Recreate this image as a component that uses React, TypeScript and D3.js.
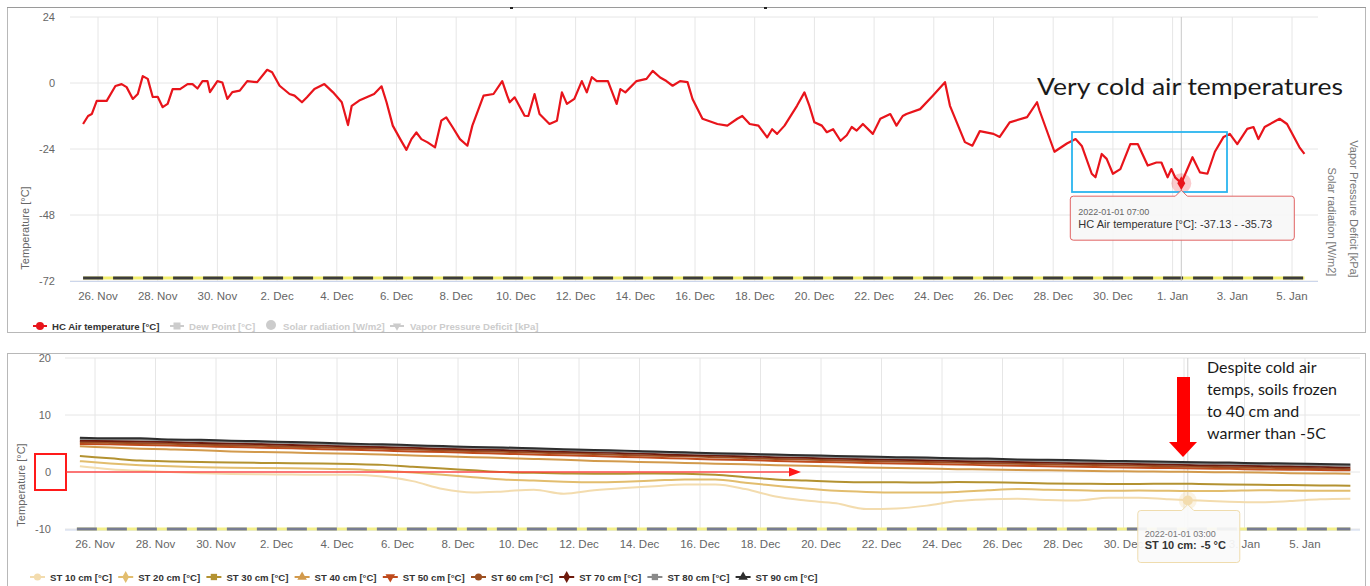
import * as d3 from "d3"

// HC Air temperature [°C], time in hours from 2021-11-26 00:00
const airHours = [
  -12, -8, -5, -1, 7, 14, 19, 23, 28, 32, 36, 40, 44, 48, 52, 56, 60, 66, 72, 76,
  80, 84, 88, 90, 96, 100, 104, 108, 114, 120, 128, 136, 140, 146, 154, 158, 164, 168, 174, 182,
  189, 196, 201, 204, 210, 216, 222, 228, 232, 237, 243, 248, 252, 256, 260, 265, 271, 276, 280, 285,
  291, 297, 301, 310, 318, 325, 329, 331, 335, 343, 346, 351, 355, 363, 369, 373, 377, 383, 389, 393,
  397, 401, 410, 417, 420, 424, 433, 441, 446, 452, 457, 462, 468, 474, 478, 486, 498, 506, 514, 518,
  524, 531, 538, 542, 546, 552, 562, 568, 572, 576, 582, 586, 591, 597, 602, 606, 610, 615, 623, 629,
  637, 642, 647, 650, 661, 671, 681, 685, 697, 703, 709, 720, 725, 733, 747, 755, 757, 769, 779, 786,
  791, 799, 802, 807, 811, 816, 822, 830, 836, 844, 851, 855, 860, 863, 866, 871, 876, 880, 886, 892,
  898, 905, 910, 916, 924, 929, 933, 938, 950, 956, 966, 970,
]
const airTemp = [
  -14.9, -12, -11.3, -6.5, -6.5, -1.1, -0.4, -1.5, -5.8, -4, 2.5, 1.5, -5.1, -5, -8.8, -7.6, -2.2, -2.2, -0.4, -0.4,
  -2, 0.7, 0.7, -3.3, 0.7, 0.2, -5.8, -3.3, -2.8, 0.7, 0.3, 4.8, 3.9, -1, -4, -4.6, -7, -5.2, -2.2, -0.4,
  -3.4, -7, -15.3, -8.3, -6.4, -5.2, -4, -1.2, -7, -15.5, -20.4, -24.3, -20.4, -18, -20.4, -21.6, -23.4, -13.7, -12.5, -16,
  -20.4, -22.8, -15.5, -4.6, -4, 0.7, -4.6, -7, -5.2, -11.9, -12, -4, -11.3, -14.9, -13.7, -3.4, -7.6, -5.8, 0.7, -3.4,
  2.1, 0.7, 0.7, -7.6, -2.2, -3.4, 0.7, 1.5, 4.4, 2, 0.7, -1, 0.7, 0.3, -5.8, -13, -14.9, -15.5, -13, -12,
  -14.9, -15.5, -19.8, -16.8, -18.5, -15.5, -8.3, -3.4, -8.3, -14.3, -15.5, -17.9, -16.8, -21, -19, -16, -17.3, -14.9, -18.5, -13,
  -11.3, -15.5, -12, -11.3, -9.5, -4.7, 0.3, -8.3, -21.5, -22.8, -17.5, -18.5, -19.6, -14.3, -12.4, -7, -10, -25, -22, -20.4,
  -22.9, -33, -34.3, -25.8, -27.6, -33, -31.3, -22.2, -22.2, -30, -28.9, -28.9, -34.3, -31.3, -34.3, -36.4, -31.2, -27, -32.5, -33,
  -25, -19.6, -18.5, -22.2, -16.7, -16, -20.4, -16, -13, -14.9, -23.4, -25.8,
]
// hidden-axis series sitting at zero (solar radiation / VPD), first and last sample
const solarRad = [0, 0]
const vpdTop = [0, 0]

// soil temperatures, one value per day at 12:00 from 2021-11-25
const st10 = [1.0, 0.5, 0.2, 0.0, -0.2, -0.35, -0.4, -0.45, -0.5, -0.5, -0.8, -1.6, -3.0, -3.6, -3.4, -3.1, -3.8, -3.2, -2.8, -2.5, -2.2, -2.2, -3.0, -4.3, -5.0, -5.5, -6.5, -6.4, -5.9, -5.1, -4.8, -4.7, -4.9, -5.0, -4.5, -4.5, -4.8, -5.0, -5.2, -5.3, -5.1, -4.8, -4.7]
const st20 = [1.9, 1.5, 1.2, 1.0, 0.85, 0.75, 0.7, 0.65, 0.55, 0.5, 0.2, -0.1, -0.5, -0.9, -1.3, -1.5, -1.7, -1.8, -1.7, -1.5, -1.3, -1.3, -1.9, -2.4, -2.9, -3.3, -3.5, -3.6, -3.6, -3.5, -3.2, -3.0, -3.1, -3.2, -3.3, -3.25, -3.3, -3.35, -3.3, -3.2, -3.25, -3.3, -3.3]
const st30 = [2.8, 2.4, 2.0, 1.85, 1.75, 1.65, 1.6, 1.55, 1.5, 1.4, 1.25, 0.9, 0.6, 0.3, 0.0, -0.15, -0.25, -0.3, -0.3, -0.25, -0.3, -0.5, -0.9, -1.3, -1.5, -1.7, -1.8, -1.8, -1.85, -1.75, -1.8, -1.9, -2.0, -2.05, -2.1, -2.1, -2.05, -2.1, -2.2, -2.25, -2.3, -2.35, -2.4]
const st40 = [4.5, 4.3, 4.1, 3.95, 3.8, 3.6, 3.5, 3.4, 3.3, 3.2, 3.05, 2.9, 2.75, 2.6, 2.45, 2.3, 2.15, 1.95, 1.85, 1.7, 1.6, 1.45, 1.35, 1.2, 1.1, 0.95, 0.8, 0.7, 0.6, 0.5, 0.45, 0.35, 0.3, 0.2, 0.15, 0.1, 0.05, 0.0, -0.05, -0.1, -0.2, -0.25, -0.3]
const st50 = [4.9, 4.85, 4.75, 4.65, 4.5, 4.4, 4.25, 4.15, 4.0, 3.9, 3.75, 3.6, 3.5, 3.35, 3.2, 3.05, 2.95, 2.8, 2.65, 2.5, 2.35, 2.2, 2.1, 1.95, 1.8, 1.7, 1.6, 1.5, 1.4, 1.3, 1.2, 1.1, 1.0, 0.9, 0.85, 0.75, 0.7, 0.6, 0.55, 0.45, 0.4, 0.35, 0.3]
const st60 = [5.2, 5.15, 5.05, 4.95, 4.8, 4.7, 4.6, 4.45, 4.35, 4.2, 4.1, 3.95, 3.8, 3.7, 3.55, 3.4, 3.3, 3.15, 3.0, 2.85, 2.75, 2.6, 2.45, 2.3, 2.2, 2.05, 1.95, 1.85, 1.75, 1.65, 1.55, 1.45, 1.35, 1.25, 1.2, 1.1, 1.0, 0.9, 0.85, 0.75, 0.7, 0.6, 0.5]
const st70 = [5.5, 5.45, 5.35, 5.25, 5.1, 5.0, 4.9, 4.75, 4.65, 4.5, 4.4, 4.25, 4.1, 3.95, 3.85, 3.7, 3.55, 3.45, 3.3, 3.15, 3.0, 2.9, 2.75, 2.6, 2.5, 2.35, 2.25, 2.15, 2.05, 1.95, 1.85, 1.75, 1.65, 1.55, 1.5, 1.4, 1.3, 1.2, 1.15, 1.05, 1.0, 0.9, 0.8]
const st80 = [5.8, 5.75, 5.7, 5.55, 5.45, 5.35, 5.2, 5.1, 4.95, 4.8, 4.7, 4.55, 4.4, 4.25, 4.15, 4.0, 3.85, 3.7, 3.6, 3.45, 3.3, 3.15, 3.05, 2.9, 2.8, 2.65, 2.55, 2.45, 2.35, 2.25, 2.15, 2.05, 1.95, 1.85, 1.8, 1.7, 1.6, 1.5, 1.45, 1.35, 1.3, 1.2, 1.1]
const st90 = [6.0, 5.9, 5.9, 5.7, 5.65, 5.5, 5.4, 5.25, 5.15, 4.95, 4.85, 4.7, 4.55, 4.4, 4.3, 4.15, 4.0, 3.85, 3.75, 3.6, 3.45, 3.3, 3.2, 3.05, 2.95, 2.8, 2.7, 2.6, 2.55, 2.4, 2.35, 2.2, 2.15, 2.05, 1.95, 1.9, 1.8, 1.7, 1.65, 1.55, 1.5, 1.4, 1.3]
const soilValues = [st10, st20, st30, st40, st50, st60, st70, st80, st90]
const soilNames = ["ST 10 cm [°C]", "ST 20 cm [°C]", "ST 30 cm [°C]", "ST 40 cm [°C]", "ST 50 cm [°C]", "ST 60 cm [°C]", "ST 70 cm [°C]", "ST 80 cm [°C]", "ST 90 cm [°C]"]
const soilFloor = [-10, -10]

const topYTicks = [24, 0, -24, -48, -72]
const botYTicks = [20, 10, 0, -10]
const topLegendNames = ["HC Air temperature [°C]", "Dew Point [°C]", "Solar radiation [W/m2]", "Vapor Pressure Deficit [kPa]"]

// tooltips
const airTipHour = 871
const airTipLabel = "2022-01-01 07:00"
const airTipLow = -37.13
const airTipHigh = -35.73
const soilTipHour = 867
const soilTipLabel = "2022-01-01 03:00"
const soilTipValue = -5

// styles
const soilColors = ["#f3dcae", "#e2bd6e", "#b39231", "#d29a4c", "#bf4b1d", "#9c4f22", "#6e1a0c", "#8a8a8a", "#2e2e2e"]
const soilSymbols = ["circle", "diamond", "square", "triangle", "triangle-down", "circle", "diamond", "square", "triangle"]
const RED = "#e8141b"
const FONT = "'Liberation Sans', Arial, Helvetica, sans-serif"
const NOTE_FONT = "Lato, 'Open Sans', sans-serif"

function symbolPath(kind: string, size: number) {
  const t =
    kind === "circle" ? d3.symbolCircle : kind === "diamond" ? d3.symbolDiamond : kind === "square" ? d3.symbolSquare : d3.symbolTriangle
  return d3.symbol().type(t).size(size)() as string
}

function tipPath(x0: number, y0: number, x1: number, y1: number, px: number, r: number) {
  return `M${x0 + r},${y0} L${px - 6},${y0} L${px},${y0 - 6} L${px + 6},${y0} L${x1 - r},${y0} Q${x1},${y0} ${x1},${y0 + r} L${x1},${y1 - r} Q${x1},${y1} ${x1 - r},${y1} L${x0 + r},${y1} Q${x0},${y1} ${x0},${y1 - r} L${x0},${y0 + r} Q${x0},${y0} ${x0 + r},${y0} Z`
}

export default function App() {
  const base = new Date(2021, 10, 26)
  const last = new Date(2022, 0, 5)
  const hourDate = (h: number) => d3.timeHour.offset(base, h)
  const soilDate = (i: number) => d3.timeHour.offset(base, -12 + 24 * i)

  const xTop = d3.scaleTime().domain([base, last]).range([98, 1292])
  const yTop = d3.scaleLinear().domain([-72, 24]).range([281, 17])
  const ySolar = d3.scaleLinear().domain([0, 100]).range([278, 17])
  const xBot = d3.scaleTime().domain([base, last]).range([95, 1305])
  const yBot = d3.scaleLinear().domain([-10, 20]).range([529, 358])

  const dayTicks = d3.timeDay.range(base, new Date(2022, 0, 6), 2)
  const fmt = d3.timeFormat("%-d. %b")

  const airLine = d3
    .line<number>()
    .x((_, i) => xTop(hourDate(airHours[i])))
    .y((d) => yTop(d))
  const soilLine = d3
    .line<number>()
    .x((_, i) => xBot(soilDate(i)))
    .y((d) => yBot(d))
    .curve(d3.curveMonotoneX)

  const topFlatX = [xTop(hourDate(airHours[0])), xTop(hourDate(airHours[airHours.length - 1]))]
  const botFlatX = [xBot(soilDate(0)) - 3, xBot(soilDate(st10.length - 1))]

  // tooltip anchors
  const atx = xTop(hourDate(airTipHour))
  const aty = yTop((airTipLow + airTipHigh) / 2)
  const stx = xBot(hourDate(soilTipHour))
  const sty = yBot(soilTipValue)

  // bottom tick labels hidden by the soil tooltip
  const botLabelTicks = dayTicks.filter((d) => Math.abs(xBot(d) - stx) > 30)

  const axisText = { fontFamily: FONT, fontSize: 11.5, fill: "#666" }

  return (
    <svg width={1370} height={586} style={{ position: "absolute", left: 0, top: 0, display: "block", background: "#fff" }}>
      {/* ---------- top panel ---------- */}
      <rect x={7.5} y={7.5} width={1358} height={325} fill="#fff" stroke="#b8b8b8" />
      <line x1={7} x2={1366} y1={7.5} y2={7.5} stroke="#9a9a9a" />
      <rect x={510} y={7} width={3} height={2} fill="#222" />
      <rect x={764} y={7} width={3} height={2} fill="#222" />

      {topYTicks.map((t) => (
        <line key={"tg" + t} x1={70} x2={1318} y1={yTop(t)} y2={yTop(t)} stroke="#e6e6e6" />
      ))}
      {dayTicks.map((d) => (
        <line key={"tv" + +d} x1={xTop(d)} x2={xTop(d)} y1={17} y2={281} stroke="#e6e6e6" />
      ))}
      <line x1={70} x2={1318} y1={281.5} y2={281.5} stroke="#ccd6eb" />
      {topYTicks.map((t) => (
        <text key={"ty" + t} x={55} y={yTop(t)} dy="0.35em" textAnchor="end" {...axisText} fontSize={11}>
          {t}
        </text>
      ))}
      {dayTicks.map((d) => (
        <text key={"tx" + +d} x={xTop(d)} y={300} textAnchor="middle" {...axisText}>
          {fmt(d)}
        </text>
      ))}
      <text transform={`translate(29,228) rotate(-90)`} textAnchor="middle" fontFamily={FONT} fontSize={11} fill="#666">
        Temperature [°C]
      </text>
      <text transform={`translate(1350,209) rotate(90)`} textAnchor="middle" fontFamily={FONT} fontSize={11} fill="#777">
        Vapor Pressure Deficit [kPa]
      </text>
      <text transform={`translate(1328,222) rotate(90)`} textAnchor="middle" fontFamily={FONT} fontSize={11} fill="#777">
        Solar radiation [W/m2]
      </text>

      {/* flat series on hidden axes */}
      <line x1={topFlatX[0]} x2={topFlatX[1]} y1={ySolar(solarRad[0])} y2={ySolar(solarRad[1])} stroke="#f2ee6e" strokeWidth={3} />
      <line
        x1={topFlatX[0]}
        x2={topFlatX[1]}
        y1={ySolar(vpdTop[0])}
        y2={ySolar(vpdTop[1])}
        stroke="#3c3c3c"
        strokeWidth={3}
        strokeDasharray="20,10"
      />

      {/* crosshair */}
      <line x1={atx} x2={atx} y1={17} y2={281} stroke="#c8c8c8" />

      <path d={airLine(airTemp) as string} fill="none" stroke={RED} strokeWidth={2.2} strokeLinejoin="round" />

      {/* hover marker */}
      <circle cx={atx} cy={aty} r={10} fill={RED} opacity={0.22} />
      <path d={symbolPath("diamond", 55)} transform={`translate(${atx},${aty})`} fill={RED} />

      {/* annotation */}
      <rect x={1072} y={132} width={155} height={60} fill="none" stroke="#2bb5ef" strokeWidth={1.8} />
      <text x={1037} y={95} fontFamily={NOTE_FONT} fontSize={23.5} fill="#1a1a1a" textLength={306} lengthAdjust="spacingAndGlyphs">
        Very cold air temperatures
      </text>

      {/* tooltip */}
      <path d={tipPath(atx - 111, aty + 13, atx + 113, aty + 57, atx, 3)} fill="rgba(247,247,247,0.9)" stroke="#e06262" />
      <text x={atx - 103} y={aty + 32} fontFamily={FONT} fontSize={9} fill="#666">
        {airTipLabel}
      </text>
      <text x={atx - 103} y={aty + 45} fontFamily={FONT} fontSize={11} fill="#333">
        {`HC Air temperature [°C]: ${airTipLow.toFixed(2)} - ${airTipHigh.toFixed(2)}`}
      </text>

      {/* top legend */}
      <g fontFamily={FONT} fontSize={9.6} fontWeight="bold">
        <line x1={33} x2={47} y1={326} y2={326} stroke={RED} strokeWidth={2} />
        <circle cx={40} cy={326} r={4} fill={RED} />
        <text x={52} y={329.5} fill="#333">
          {topLegendNames[0]}
        </text>
        <line x1={170} x2={184} y1={326} y2={326} stroke="#ccc" strokeWidth={2} />
        <rect x={173.5} y={322.5} width={7} height={7} fill="#ccc" />
        <text x={189} y={329.5} fill="#ccc">
          {topLegendNames[1]}
        </text>
        <circle cx={271} cy={325} r={5} fill="#ccc" />
        <text x={283} y={329.5} fill="#ccc">
          {topLegendNames[2]}
        </text>
        <line x1={390} x2={404} y1={326} y2={326} stroke="#ccc" strokeWidth={2} />
        <path d={symbolPath("triangle", 30)} transform="translate(397,326) rotate(180)" fill="#ccc" />
        <text x={410} y={329.5} fill="#ccc">
          {topLegendNames[3]}
        </text>
      </g>

      {/* ---------- bottom panel ---------- */}
      <rect x={7.5} y={353.5} width={1358} height={240} fill="#fff" stroke="#b8b8b8" />

      {botYTicks.map((t) => (
        <line key={"bg" + t} x1={65} x2={1360} y1={yBot(t)} y2={yBot(t)} stroke="#e6e6e6" />
      ))}
      {dayTicks.map((d) => (
        <line key={"bv" + +d} x1={xBot(d)} x2={xBot(d)} y1={358} y2={529} stroke="#e6e6e6" />
      ))}
      <line x1={65} x2={1360} y1={530} y2={530} stroke="#ccd6eb" />
      {botYTicks.map((t) => (
        <text key={"by" + t} x={51} y={yBot(t)} dy="0.35em" textAnchor="end" {...axisText} fontSize={11}>
          {t}
        </text>
      ))}
      {botLabelTicks.map((d) => (
        <text key={"bx" + +d} x={xBot(d)} y={548} textAnchor="middle" {...axisText}>
          {fmt(d)}
        </text>
      ))}
      <text transform={`translate(25,485) rotate(-90)`} textAnchor="middle" fontFamily={FONT} fontSize={11} fill="#666">
        Temperature [°C]
      </text>

      <line x1={botFlatX[0]} x2={botFlatX[1]} y1={yBot(soilFloor[0])} y2={yBot(soilFloor[1])} stroke="#f4f08c" strokeWidth={3} />
      <line
        x1={botFlatX[0]}
        x2={botFlatX[1]}
        y1={yBot(soilFloor[0])}
        y2={yBot(soilFloor[1])}
        stroke="#777c92"
        strokeWidth={3}
        strokeDasharray="20,10"
      />

      <line x1={stx} x2={stx} y1={358} y2={529} stroke="#d0d0d0" />

      {soilValues.map((vals, k) => (
        <path key={"s" + k} d={soilLine(vals) as string} fill="none" stroke={soilColors[k]} strokeWidth={2} />
      ))}

      {/* zero annotation */}
      <rect x={35} y={yBot(0) - 18} width={31} height={36} fill="none" stroke="#ff1a1a" strokeWidth={2} />
      <line x1={66} x2={791} y1={yBot(0)} y2={yBot(0)} stroke="#ff3b3b" strokeWidth={1.6} opacity={0.9} />
      <path d={`M789,${yBot(0) - 4.5} L801,${yBot(0)} L789,${yBot(0) + 4.5} Z`} fill="#ff1a1a" />

      {/* red arrow and note */}
      <rect x={1177} y={377} width={13} height={66} fill="#ff0000" />
      <path d="M1169,442 L1197,442 L1183,457 Z" fill="#ff0000" />
      <g fontFamily={NOTE_FONT} fontSize={16} fill="#1a1a1a">
        <text x={1207} y={373}>Despite cold air</text>
        <text x={1207} y={395}>temps, soils frozen</text>
        <text x={1207} y={417}>to 40 cm and</text>
        <text x={1207} y={439}>warmer than -5C</text>
      </g>

      {/* soil tooltip */}
      <circle cx={stx} cy={sty} r={9} fill={soilColors[0]} opacity={0.35} />
      <circle cx={stx} cy={sty} r={5} fill={soilColors[0]} />
      <path d={tipPath(stx - 50, sty + 10, stx + 52, sty + 62, stx, 3)} fill="rgba(250,250,250,0.93)" stroke="#efdcae" />
      <text x={stx - 43} y={sty + 36} fontFamily={FONT} fontSize={9} fill="#777">
        {soilTipLabel}
      </text>
      <text x={stx - 43} y={sty + 48} fontFamily={FONT} fontSize={11} fill="#333">
        <tspan fontWeight="bold">ST 10 cm:</tspan>
        <tspan fontWeight="bold" dx={4}>{`${soilTipValue} °C`}</tspan>
      </text>

      {/* bottom legend */}
      <g fontFamily={FONT} fontSize={9.6} fontWeight="bold">
        {soilNames.map((n, k) => {
          const lx = 30 + k * 88.2
          return (
            <g key={"lg" + k}>
              <line x1={lx} x2={lx + 15} y1={577} y2={577} stroke={soilColors[k]} strokeWidth={2} />
              <path
                d={symbolPath(soilSymbols[k], 40)}
                transform={`translate(${lx + 7.5},577)${soilSymbols[k] === "triangle-down" ? " rotate(180)" : ""}`}
                fill={soilColors[k]}
              />
              <text x={lx + 20} y={580.5} fill="#333">
                {n}
              </text>
            </g>
          )
        })}
      </g>
    </svg>
  )
}
